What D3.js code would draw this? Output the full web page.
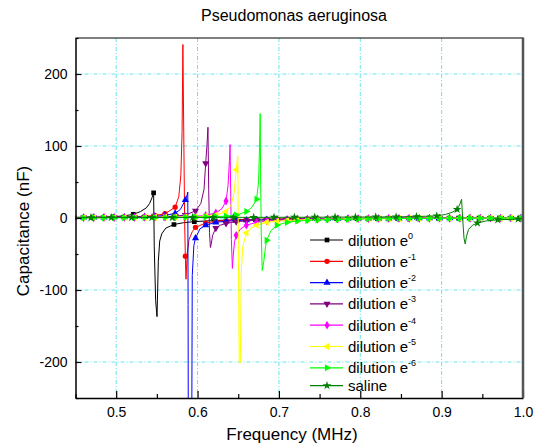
<!DOCTYPE html>
<html>
<head>
<meta charset="utf-8">
<script src="https://cdn.jsdelivr.net/npm/d3@7"></script>
<style>
  body { margin: 0; background: #fff; }
  text { font-family: "Liberation Sans", Arial, sans-serif; fill: #000; }
</style>
</head>
<body>
<div id="chart"></div>
<script>
// [frequency MHz, capacitance nF, marker?]
const e0 = [
  [0.446,0.8,1],[0.471,1.1,1],[0.496,1.7,1],[0.510,3],[0.521,5,1],[0.530,9],[0.537,14],[0.541,20],[0.544,28],[0.546,35,1],
  [0.5468,-40],[0.5485,-115],[0.5502,-137],[0.5518,-60],[0.5535,-32],[0.556,-22],[0.561,-14],[0.571,-9,1],[0.583,-6.5],[0.596,-5,1],
  [0.621,-3.5,1],[0.646,-2.6,1],[0.671,-2,1],[0.696,-1.6,1],[0.721,-1.3,1],[0.746,-1,1],[0.771,-0.8,1],[0.796,-0.6,1],[0.821,-0.5,1],
  [0.846,-0.4,1],[0.871,-0.3,1],[0.896,-0.2,1],[0.921,-0.1,1],[0.946,0,1],[0.971,0,1],[0.996,0,1],[1.0,0]
];
const e1 = [
  [0.4475,0.8,1],[0.46,0.9,1],[0.4725,1,1],[0.485,1.1,1],[0.4975,1.2,1],[0.51,1.4,1],[0.5225,1.7,1],[0.535,2.3,1],[0.5475,3.5,1],
  [0.56,6,1],[0.5725,15,1],[0.577,30],[0.5795,60],[0.581,120],[0.582,241],[0.5832,100],[0.5842,-10],[0.585,-53,1],[0.5858,-85],
  [0.5872,-50],[0.5895,-30],[0.5935,-19],[0.5975,-13,1],[0.61,-7,1],[0.6225,-4.5,1],[0.635,-3.4,1],[0.6475,-2.8,1],[0.66,-2.3,1],
  [0.6725,-2,1],[0.685,-1.7,1],[0.6975,-1.5,1],[0.71,-1.3,1],[0.7225,-1.1,1],[0.735,-1,1],[0.7475,-0.9,1],[0.76,-0.8,1],
  [0.7725,-0.7,1],[0.785,-0.6,1],[0.7975,-0.5,1],[0.81,-0.5,1],[0.8225,-0.4,1],[0.835,-0.4,1],[0.8475,-0.3,1],[0.86,-0.3,1],
  [0.8725,-0.2,1],[0.885,-0.2,1],[0.8975,-0.1,1],[0.91,-0.1,1],[0.9225,0,1],[0.935,0,1],[0.9475,0,1],[0.96,0,1],[0.9725,0,1],
  [0.985,0,1],[0.9975,0,1]
];
const e2 = [
  [0.4475,0.6,1],[0.46,0.7,1],[0.4725,0.8,1],[0.485,0.9,1],[0.4975,1,1],[0.51,1.2,1],[0.5225,1.4,1],[0.535,1.8,1],[0.5475,2.4,1],
  [0.56,3.5,1],[0.5725,6.5,1],[0.579,12],[0.585,25,1],[0.5872,32],[0.588,36],[0.5884,-120],[0.5888,-420],[0.5925,-420],
  [0.5935,-80],[0.5955,-38],[0.5975,-28,1],[0.603,-15],[0.61,-10,1],[0.6225,-6,1],[0.635,-4.5,1],[0.6475,-3.5,1],[0.66,-3,1],
  [0.6725,-2.5,1],[0.685,-2.2,1],[0.6975,-2,1],[0.71,-1.8,1],[0.7225,-1.6,1],[0.735,-1.4,1],[0.7475,-1.2,1],[0.76,-1.1,1],
  [0.7725,-1,1],[0.785,-0.9,1],[0.7975,-0.8,1],[0.81,-0.7,1],[0.8225,-0.6,1],[0.835,-0.5,1],[0.8475,-0.5,1],[0.86,-0.4,1],
  [0.8725,-0.4,1],[0.885,-0.3,1],[0.8975,-0.3,1],[0.91,-0.2,1],[0.9225,-0.2,1],[0.935,-0.1,1],[0.9475,-0.1,1],[0.96,0,1],
  [0.9725,0,1],[0.985,0,1],[0.9975,0,1]
];
const e3 = [
  [0.4475,0.5,1],[0.46,0.6,1],[0.4725,0.6,1],[0.485,0.7,1],[0.4975,0.8,1],[0.51,0.9,1],[0.5225,1,1],[0.535,1.2,1],[0.5475,1.5,1],
  [0.56,1.9,1],[0.5725,2.6,1],[0.585,4,1],[0.5975,10,1],[0.604,20],[0.608,40],[0.61,76,1],[0.6118,105],[0.6128,126],[0.6137,40],
  [0.6147,-20],[0.6158,-41],[0.617,-35],[0.6185,-24],[0.6225,-14,1],[0.628,-10],[0.635,-7.5,1],[0.6475,-5,1],[0.66,-4,1],
  [0.6725,-3.2,1],[0.685,-2.7,1],[0.6975,-2.3,1],[0.71,-2,1],[0.7225,-1.8,1],[0.735,-1.6,1],[0.7475,-1.4,1],[0.76,-1.2,1],
  [0.7725,-1.1,1],[0.785,-1,1],[0.7975,-0.9,1],[0.81,-0.8,1],[0.8225,-0.7,1],[0.835,-0.6,1],[0.8475,-0.5,1],[0.86,-0.5,1],
  [0.8725,-0.4,1],[0.885,-0.4,1],[0.8975,-0.3,1],[0.91,-0.3,1],[0.9225,-0.2,1],[0.935,-0.2,1],[0.9475,-0.1,1],[0.96,-0.1,1],
  [0.9725,0,1],[0.985,0,1],[0.9975,0,1]
];
const e4 = [
  [0.4475,0.4,1],[0.46,0.5,1],[0.4725,0.5,1],[0.485,0.6,1],[0.4975,0.6,1],[0.51,0.7,1],[0.5225,0.8,1],[0.535,0.9,1],[0.5475,1,1],
  [0.56,1.2,1],[0.5725,1.4,1],[0.585,1.8,1],[0.5975,2.4,1],[0.61,3.5,1],[0.6225,7,1],[0.63,13],[0.635,23.5,1],[0.6375,45],
  [0.6392,80],[0.64,102],[0.6408,30],[0.6416,-30],[0.6428,-70],[0.644,-50],[0.6455,-33],[0.6475,-24,1],[0.653,-15],[0.66,-10,1],
  [0.6725,-6,1],[0.685,-4.2,1],[0.6975,-3.3,1],[0.71,-2.7,1],[0.7225,-2.2,1],[0.735,-1.9,1],[0.7475,-1.6,1],[0.76,-1.4,1],
  [0.7725,-1.2,1],[0.785,-1,1],[0.7975,-0.9,1],[0.81,-0.8,1],[0.8225,-0.7,1],[0.835,-0.6,1],[0.8475,-0.5,1],[0.86,-0.4,1],
  [0.8725,-0.4,1],[0.885,-0.3,1],[0.8975,-0.3,1],[0.91,-0.2,1],[0.9225,-0.2,1],[0.935,-0.1,1],[0.9475,-0.1,1],[0.96,0,1],
  [0.9725,0,1],[0.985,0,1],[0.9975,0,1]
];
const e5 = [
  [0.4475,0.4,1],[0.46,0.4,1],[0.4725,0.5,1],[0.485,0.5,1],[0.4975,0.6,1],[0.51,0.6,1],[0.5225,0.7,1],[0.535,0.8,1],[0.5475,0.9,1],
  [0.56,1,1],[0.5725,1.2,1],[0.585,1.4,1],[0.5975,1.8,1],[0.61,2.6,1],[0.6225,4,1],[0.635,9,1],[0.641,17],[0.645,35],
  [0.6475,67,1],[0.6495,86],[0.6503,-60],[0.6512,-201],[0.6526,-201],[0.6536,-80],[0.6555,-40],[0.66,-21,1],[0.666,-14],
  [0.6725,-10,1],[0.685,-6,1],[0.6975,-4.5,1],[0.71,-3.5,1],[0.7225,-2.8,1],[0.735,-2.3,1],[0.7475,-2,1],[0.76,-1.7,1],
  [0.7725,-1.5,1],[0.785,-1.3,1],[0.7975,-1.1,1],[0.81,-1,1],[0.8225,-0.9,1],[0.835,-0.8,1],[0.8475,-0.7,1],[0.86,-0.6,1],
  [0.8725,-0.5,1],[0.885,-0.4,1],[0.8975,-0.4,1],[0.91,-0.3,1],[0.9225,-0.3,1],[0.935,-0.2,1],[0.9475,-0.2,1],[0.96,-0.1,1],
  [0.9725,-0.1,1],[0.985,0,1],[0.9975,0,1]
];
const e6 = [
  [0.4475,0.3,1],[0.46,0.4,1],[0.4725,0.4,1],[0.485,0.4,1],[0.4975,0.5,1],[0.51,0.5,1],[0.5225,0.6,1],[0.535,0.6,1],[0.5475,0.7,1],
  [0.56,0.8,1],[0.5725,0.9,1],[0.585,1,1],[0.5975,1.2,1],[0.61,1.5,1],[0.6225,1.9,1],[0.635,2.5,1],[0.6475,4,1],[0.66,9,1],
  [0.667,15],[0.6725,26,1],[0.675,50],[0.676,90],[0.677,145],[0.6776,50],[0.6783,-20],[0.6795,-73],[0.6815,-60],[0.6835,-40],
  [0.685,-31,1],[0.69,-18],[0.6975,-10,1],[0.71,-6,1],[0.7225,-4.2,1],[0.735,-3.3,1],[0.7475,-2.7,1],[0.76,-2.2,1],
  [0.7725,-1.9,1],[0.785,-1.6,1],[0.7975,-1.4,1],[0.81,-1.2,1],[0.8225,-1,1],[0.835,-0.9,1],[0.8475,-0.8,1],[0.86,-0.7,1],
  [0.8725,-0.6,1],[0.885,-0.5,1],[0.8975,-0.4,1],[0.91,-0.3,1],[0.9225,-0.3,1],[0.935,-0.2,1],[0.9475,-0.2,1],[0.96,-0.1,1],
  [0.9725,-0.1,1],[0.985,0,1],[0.9975,0,1]
];
const saline = [
  [0.444,0.5,1],[0.469,0.5,1],[0.494,0.6,1],[0.519,0.6,1],[0.544,0.7,1],[0.569,0.7,1],[0.594,0.8,1],[0.619,0.8,1],[0.644,0.9,1],
  [0.669,0.9,1],[0.694,1,1],[0.719,1,1],[0.744,1.1,1],[0.769,1.2,1],[0.794,1.3,1],[0.819,1.4,1],[0.844,1.6,1],[0.869,2,1],
  [0.894,3,1],[0.905,5],[0.913,8],[0.919,12,1],[0.922,18],[0.9245,26],[0.9258,0],[0.9275,-28],[0.929,-36],[0.9305,-26],
  [0.933,-16],[0.938,-10],[0.944,-7,1],[0.955,-4],[0.969,-2.5,1],[0.994,-1.5,1],[1.0,-1.3]
];

const names = ["dilution e", "dilution e", "dilution e", "dilution e", "dilution e", "dilution e", "dilution e", "saline"];
const sups = ["0", "-1", "-2", "-3", "-4", "-5", "-6", ""];
const colors = ["#000000", "#ff0000", "#0000ff", "#800080", "#ff00ff", "#ffff00", "#00ff00", "#008000"];
const symbols = [d3.symbolSquare, d3.symbolCircle, d3.symbolTriangle, d3.symbolTriangle, d3.symbolDiamond, d3.symbolTriangle, d3.symbolTriangle, d3.symbolStar];
const rotations = [0, 0, 0, 180, 0, -90, 90, 0];
const allData = [e0, e1, e2, e3, e4, e5, e6, saline];

const xTicks = [0.5, 0.6, 0.7, 0.8, 0.9, 1.0];
const xMinor = [0.45, 0.55, 0.65, 0.75, 0.85, 0.95];
const yTicks = [-200, -100, 0, 100, 200];
const yMinor = [-250, -150, -50, 50, 150, 250];

let width = 538, height = 447;
let mLeft = 75.5, mRight = 523, mTop = 38, mBottom = 398;

let svg = d3.select('#chart').append('svg')
    .attr('width', width)
    .attr('height', height);

let x = d3.scaleLinear().domain([0.45, 1.0]).range([mLeft, mRight]);
let y = d3.scaleLinear().domain([-250, 250]).range([mBottom, mTop]);

svg.append('defs').append('clipPath')
    .attr('id', 'clip')
    .append('rect')
    .attr('x', mLeft).attr('y', mTop)
    .attr('width', mRight - mLeft).attr('height', mBottom - mTop);

// grid
let grid = svg.append('g');
xTicks.filter(d => d < 1).forEach(d => {
    grid.append('line')
        .attr('x1', x(d)).attr('x2', x(d))
        .attr('y1', mTop).attr('y2', mBottom)
        .attr('stroke', '#66e4ec').attr('stroke-width', 1)
        .attr('stroke-dasharray', '4,2,1,2');
});
yTicks.forEach(d => {
    grid.append('line')
        .attr('x1', mLeft).attr('x2', mRight)
        .attr('y1', y(d)).attr('y2', y(d))
        .attr('stroke', '#66e4ec').attr('stroke-width', 1)
        .attr('stroke-dasharray', '4,2,1,2');
});

// series
let plot = svg.append('g').attr('clip-path', 'url(#clip)');
let line = d3.line()
    .x(d => x(d[0]))
    .y(d => y(d[1]));

allData.forEach((data, i) => {
    plot.append('path')
        .attr('d', line(data))
        .attr('fill', 'none')
        .attr('stroke', colors[i])
        .attr('stroke-width', 1);

    let sym = d3.symbol().type(symbols[i]).size(i == 7 ? 24 : 22);
    plot.selectAll(null)
        .data(data.filter(d => d[2]))
        .enter()
        .append('path')
        .attr('d', sym)
        .attr('transform', d => "translate(" + x(d[0]) + "," + y(d[1]) + ") rotate(" + rotations[i] + ")")
        .attr('fill', colors[i]);
});

// axes
let xAxis = d3.axisBottom(x).tickValues(xTicks).tickFormat(d3.format('.1f'))
    .tickSizeInner(-7).tickSizeOuter(0).tickPadding(9);
let gx = svg.append('g').attr('transform', "translate(0," + mBottom + ")").call(xAxis);
svg.append('g').attr('transform', "translate(0," + mBottom + ")")
    .call(d3.axisBottom(x).tickValues(xMinor).tickFormat('').tickSizeInner(-4).tickSizeOuter(0))
    .select('.domain').remove();

let yAxis = d3.axisLeft(y).tickValues(yTicks).tickFormat(d => String(d))
    .tickSizeInner(-6).tickSizeOuter(0).tickPadding(8);
let gy = svg.append('g').attr('transform', "translate(" + mLeft + ",0)").call(yAxis);
svg.append('g').attr('transform', "translate(" + mLeft + ",0)")
    .call(d3.axisLeft(y).tickValues(yMinor).tickFormat('').tickSizeInner(-3).tickSizeOuter(0))
    .select('.domain').remove();

[gx, gy].forEach(g => {
    g.selectAll('text').attr('font-size', 14).attr('font-family', '"Liberation Sans", Arial, sans-serif');
    g.select('.domain').attr('stroke', '#000').attr('stroke-width', 1.5);
});
svg.selectAll('.tick line').attr('stroke', '#000').attr('stroke-width', 1.2);

// frame top / right
svg.append('line')
    .attr('x1', mLeft).attr('x2', mRight)
    .attr('y1', mTop).attr('y2', mTop)
    .attr('stroke', '#000').attr('stroke-width', 1.2);
svg.append('line')
    .attr('x1', mRight).attr('x2', mRight)
    .attr('y1', mTop - 0.6).attr('y2', mBottom)
    .attr('stroke', '#555').attr('stroke-width', 2.5);

// titles
svg.append('text')
    .attr('x', 294).attr('y', 21)
    .attr('text-anchor', 'middle')
    .attr('font-size', 16)
    .text('Pseudomonas aeruginosa');

svg.append('text')
    .attr('x', 292).attr('y', 440)
    .attr('text-anchor', 'middle')
    .attr('font-size', 17)
    .text('Frequency (MHz)');

svg.append('text')
    .attr('transform', "translate(29,231) rotate(-90)")
    .attr('text-anchor', 'middle')
    .attr('font-size', 17)
    .text('Capacitance (nF)');

// legend
let legend = svg.append('g');
names.forEach((d, i) => {
    let ly = 240 + i * 21.3 - (i == 7 ? 3.5 : 0);
    legend.append('line')
        .attr('x1', 310).attr('x2', 343)
        .attr('y1', ly).attr('y2', ly)
        .attr('stroke', colors[i]).attr('stroke-width', 1.2);
    legend.append('path')
        .attr('d', d3.symbol().type(symbols[i]).size(i == 7 ? 24 : 22))
        .attr('transform', "translate(327," + ly + ") rotate(" + rotations[i] + ")")
        .attr('fill', colors[i]);
    let t = legend.append('text')
        .attr('x', 348).attr('y', ly + 5.5)
        .attr('font-size', 15)
        .text(d);
    if (sups[i] != "") {
        t.append('tspan')
            .attr('dy', -7)
            .attr('font-size', 9)
            .text(sups[i]);
    }
});
</script>
</body>
</html>
